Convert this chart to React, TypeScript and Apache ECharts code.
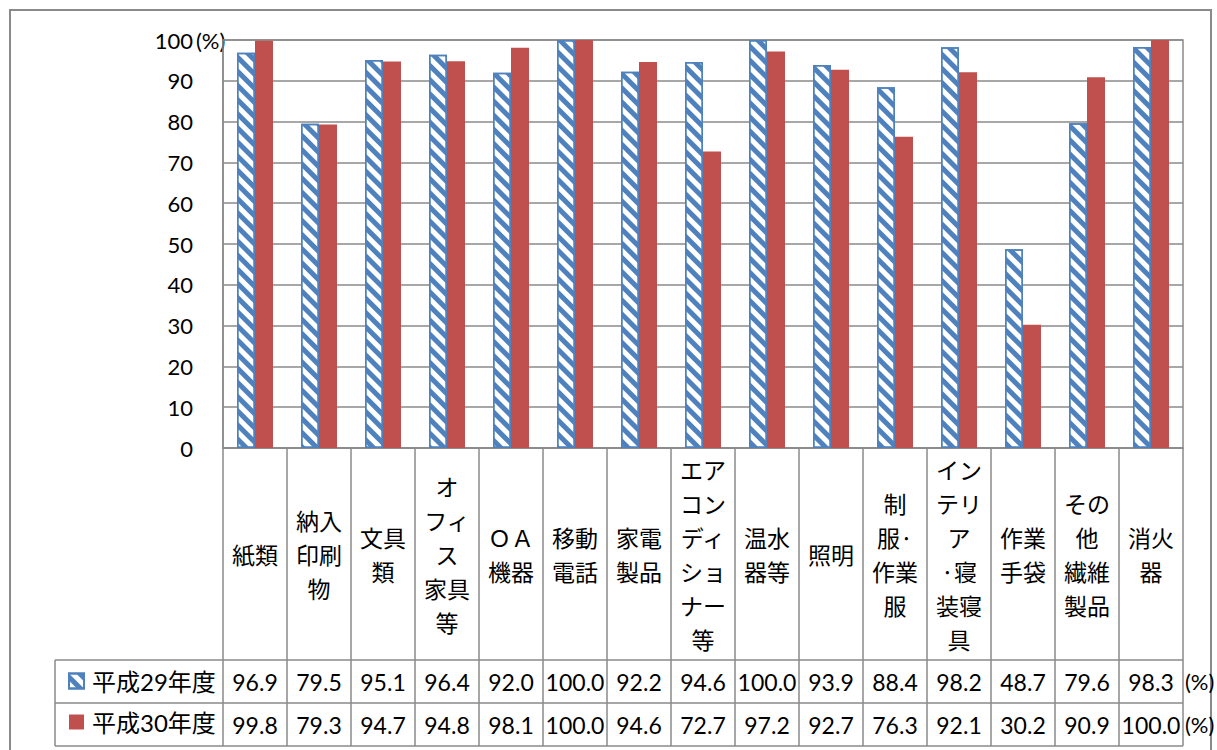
import React, { useEffect, useRef } from 'react';
import * as echarts from 'echarts';

// ---- data ----
const categories = [
  '紙類',
  '納入\n印刷\n物',
  '文具\n類',
  'オ\nフィ\nス\n家具\n等',
  'ＯＡ\n機器',
  '移動\n電話',
  '家電\n製品',
  'エア\nコン\nディ\nショ\nナー\n等',
  '温水\n器等',
  '照明',
  '制\n服·\n作業\n服',
  'イン\nテリ\nア\n·寝\n装寝\n具',
  '作業\n手袋',
  'その\n他\n繊維\n製品',
  '消火\n器',
];
const seriesNames = ['平成29年度', '平成30年度'];
const h29 = [96.9, 79.5, 95.1, 96.4, 92.0, 100.0, 92.2, 94.6, 100.0, 93.9, 88.4, 98.2, 48.7, 79.6, 98.3];
const h30 = [99.8, 79.3, 94.7, 94.8, 98.1, 100.0, 94.6, 72.7, 97.2, 92.7, 76.3, 92.1, 30.2, 90.9, 100.0];
const yMin = 0;
const yMax = 100;
const yInterval = 10;
const unitLabel = '(%)';

export default function App() {
  const ref = useRef<HTMLDivElement>(null);

  useEffect(() => {
    const chart = echarts.init(ref.current as HTMLDivElement, null, { renderer: 'svg' });
    const gray = '#8a8a8a';
    const numFont = 'Lato, "Noto Sans CJK JP", sans-serif';
    const unitFont = '"Liberation Sans Narrow", Lato, sans-serif';
    const cjkFont = '"Noto Sans CJK JP", sans-serif';
    const grid = { left: 223, top: 40, width: 960, height: 408 };
    const bottom = grid.top + grid.height;
    const right = grid.left + grid.width;
    const rowTop = 660;
    const rowMid = 703;
    const rowBottom = 746;
    const tableLeft = 55;

    const valueAxis = (data: number[], centerY: number) => ({
      type: 'category',
      gridIndex: 0,
      position: 'bottom',
      data: categories,
      axisLine: { show: false },
      axisTick: { show: false },
      splitLine: { show: false },
      axisLabel: {
        interval: 0,
        margin: centerY - bottom,
        verticalAlign: 'middle',
        formatter: (_v: string, i: number) => data[i].toFixed(1),
        fontFamily: numFont,
        fontSize: 23,
        color: '#000',
      },
    });

    const unitText = (x: number, y: number) => ({
      type: 'text',
      x,
      y,
      style: { text: unitLabel, fontFamily: unitFont, fontSize: 22, fill: '#000', verticalAlign: 'middle', align: 'left' },
    });

    const option: any = {
      animation: false,
      backgroundColor: '#fff',
      grid: { ...grid, show: true, borderColor: gray, borderWidth: 1.5, containLabel: false },
      xAxis: [
        {
          type: 'category',
          data: categories,
          axisLine: { show: true, lineStyle: { color: gray, width: 1.5 } },
          axisTick: { show: true, interval: 0, length: rowBottom - bottom, lineStyle: { color: gray, width: 1.5 } },
          axisLabel: {
            interval: 0,
            margin: (rowTop - bottom) / 2,
            verticalAlign: 'middle',
            align: 'center',
            fontFamily: cjkFont,
            fontSize: 23,
            lineHeight: 34,
            color: '#000',
          },
        },
        valueAxis(h29, (rowTop + rowMid) / 2),
        valueAxis(h30, (rowMid + rowBottom) / 2),
      ],
      yAxis: {
        type: 'value',
        min: yMin,
        max: yMax,
        interval: yInterval,
        axisLine: { show: true, lineStyle: { color: gray, width: 1.5 } },
        axisTick: { show: false },
        axisLabel: { margin: 30, fontFamily: numFont, fontSize: 22, color: '#000' },
        splitLine: { show: true, lineStyle: { color: gray, width: 1.5 } },
      },
      legend: {
        data: seriesNames,
        orient: 'vertical',
        left: 63,
        top: 662,
        icon: 'rect',
        itemWidth: 15,
        itemHeight: 15,
        itemGap: 13,
        textStyle: { fontFamily: numFont, fontSize: 24, lineHeight: 28, color: '#000', padding: [0, 0, 0, 3] },
      },
      series: [
        {
          name: seriesNames[0],
          type: 'bar',
          data: h29,
          barWidth: 18,
          barGap: '0%',
          itemStyle: {
            color: '#ffffff',
            borderColor: '#4F81BD',
            borderWidth: 1.5,
            decal: {
              symbol: 'rect',
              symbolSize: 1,
              color: '#4F81BD',
              dashArrayX: [1, 0],
              dashArrayY: [5, 5],
              rotation: Math.PI / 4,
            },
          },
        },
        {
          name: seriesNames[1],
          type: 'bar',
          data: h30,
          barWidth: 18,
          barGap: '0%',
          itemStyle: { color: '#C0504D' },
        },
      ],
      graphic: [
        {
          type: 'rect',
          shape: { x: 10, y: 10, width: 1201, height: 800 },
          style: { fill: 'none', stroke: gray, lineWidth: 2 },
          silent: true,
        },
        ...[rowTop, rowMid, rowBottom].map((y) => ({
          type: 'line',
          shape: { x1: tableLeft, y1: y, x2: right, y2: y },
          style: { stroke: gray, lineWidth: 1.5 },
          silent: true,
        })),
        {
          type: 'line',
          shape: { x1: tableLeft, y1: rowTop, x2: tableLeft, y2: rowBottom },
          style: { stroke: gray, lineWidth: 1.5 },
          silent: true,
        },
        unitText(196, grid.top),
        unitText(right + 2, (rowTop + rowMid) / 2),
        unitText(right + 2, (rowMid + rowBottom) / 2),
      ],
    };

    chart.setOption(option);
    return () => chart.dispose();
  }, []);

  return (
    <div
      ref={ref}
      style={{ position: 'fixed', left: 0, top: 0, width: 1217, height: 750, background: '#fff' }}
    />
  );
}
